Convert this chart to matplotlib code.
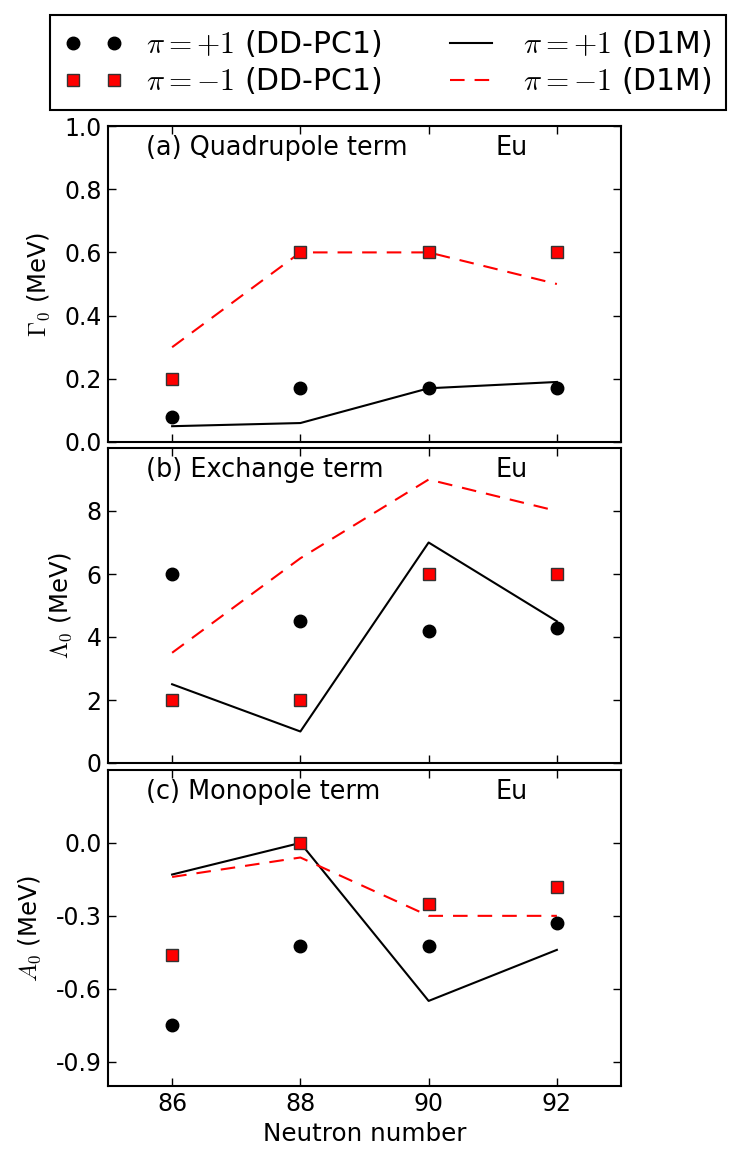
import matplotlib
matplotlib.use("Agg")
import matplotlib.pyplot as plt
from matplotlib.lines import Line2D

plt.rcParams['mathtext.fontset'] = 'cm'
plt.rcParams['font.family'] = ['DejaVu Sans']

neutrons = [86, 88, 90, 92]

# (a) Quadrupole term
a_ddpc_pos = [0.08, 0.17, 0.17, 0.17]
a_ddpc_neg = [0.20, 0.60, 0.60, 0.60]
a_d1m_pos = [0.05, 0.06, 0.17, 0.19]
a_d1m_neg = [0.30, 0.60, 0.60, 0.50]

# (b) Exchange term
b_ddpc_pos = [6.0, 4.5, 4.2, 4.3]
b_ddpc_neg = [2.0, 2.0, 6.0, 6.0]
b_d1m_pos = [2.5, 1.0, 7.0, 4.5]
b_d1m_neg = [3.5, 6.5, 9.0, 8.0]

# (c) Monopole term
c_ddpc_pos = [-0.75, -0.425, -0.425, -0.33]
c_ddpc_neg = [-0.46, 0.0, -0.25, -0.18]
c_d1m_pos = [-0.13, 0.0, -0.65, -0.44]
c_d1m_neg = [-0.14, -0.06, -0.30, -0.30]

panel_titles = ["(a) Quadrupole term", "(b) Exchange term", "(c) Monopole term"]
ylabels = [r"$\Gamma_0$ (MeV)", r"$\Lambda_0$ (MeV)", r"$A_0$ (MeV)"]
yticks = [[0.0, 0.2, 0.4, 0.6, 0.8, 1.0], [0, 2, 4, 6, 8], [0.0, -0.3, -0.6, -0.9]]
yticklabels = [["0.0", "0.2", "0.4", "0.6", "0.8", "1.0"], ["0", "2", "4", "6", "8"],
               ["0.0", "-0.3", "-0.6", "-0.9"]]
ylims = [(0.0, 1.0), (0, 10), (-1.0, 0.3)]
xticks = [86, 88, 90, 92]

data = [
    (a_ddpc_pos, a_ddpc_neg, a_d1m_pos, a_d1m_neg),
    (b_ddpc_pos, b_ddpc_neg, b_d1m_pos, b_d1m_neg),
    (c_ddpc_pos, c_ddpc_neg, c_d1m_pos, c_d1m_neg),
]

DASH = (0, (7, 4.8))

fig = plt.figure(figsize=(7.49, 11.59), dpi=100)
W, H = 749.0, 1159.0
left = 108 / W
width = (621 - 108) / W
boxes = [(126, 442), (448, 763), (770, 1086)]

for i, (top, bot) in enumerate(boxes):
    ax = fig.add_axes([left, 1 - bot / H, width, (bot - top) / H])
    dp, dn, lp, ln = data[i]
    ax.plot(neutrons, lp, color='black', lw=1.5, zorder=2)
    ax.plot(neutrons, ln, color='red', lw=1.5, ls=DASH, zorder=2)
    ax.plot(neutrons, dp, 'o', color='black', ms=9, zorder=3)
    ax.plot(neutrons, dn, 's', mfc='red', mec='#333333', mew=1.0, ms=8.5, zorder=3)
    ax.set_xlim(85, 93)
    ax.set_ylim(*ylims[i])
    ax.set_xticks(xticks)
    ax.set_yticks(yticks[i])
    ax.set_yticklabels(yticklabels[i])
    ax.tick_params(direction='in', top=True, right=True, length=6, width=1,
                   labelsize=17, pad=4.5)
    if i < 2:
        ax.set_xticklabels([])
    else:
        ax.set_xlabel("Neutron number", fontsize=17.7, labelpad=4)
    ax.set_ylabel(ylabels[i], fontsize=17.5, labelpad=9)
    for sp in ax.spines.values():
        sp.set_linewidth(1.5)
    ax.text(0.075, 0.971, panel_titles[i], transform=ax.transAxes, fontsize=18.4,
            va='top', ha='left')
    ax.text(0.755, 0.971, "Eu", transform=ax.transAxes, fontsize=18.4,
            va='top', ha='left')

handles = [
    Line2D([], [], ls='none', marker='o', color='black', ms=9),
    Line2D([], [], ls='none', marker='s', mfc='red', mec='#333333', ms=8.5),
    Line2D([], [], color='black', lw=1.5),
    Line2D([], [], color='red', lw=1.5, ls=DASH),
]
labels = [r"$\pi=+1$ (DD-PC1)", r"$\pi=-1$ (DD-PC1)", r"$\pi=+1$ (D1M)", r"$\pi=-1$ (D1M)"]
leg = fig.legend(handles, labels, ncol=2, numpoints=2, loc='upper center',
                 bbox_to_anchor=(388 / W, 1 - 15 / H), fontsize=21.5,
                 fancybox=False, edgecolor='black', framealpha=1,
                 handlelength=2.0, handletextpad=0.75, columnspacing=2.0,
                 labelspacing=0.2, borderpad=0.45, borderaxespad=0)
leg.get_frame().set_linewidth(1.5)

fig.savefig("out.png", dpi=100)
